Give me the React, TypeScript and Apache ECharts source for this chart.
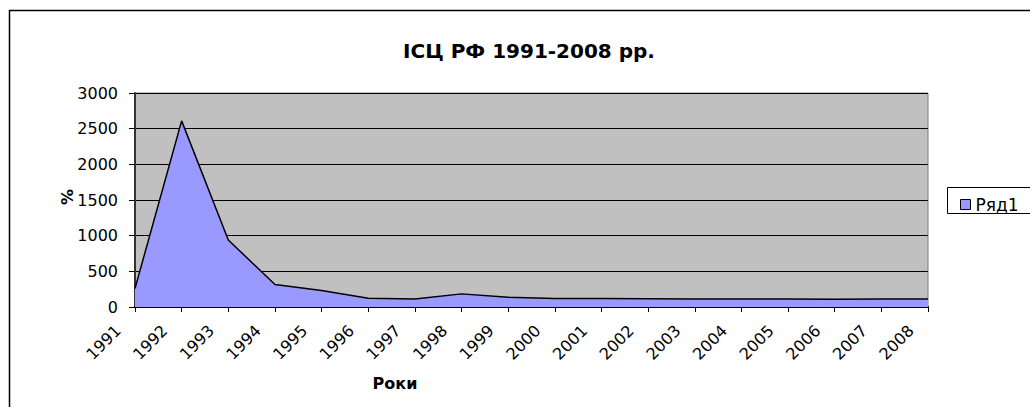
import React, { useEffect, useRef } from "react";
import * as echarts from "echarts";

const years = ["1991","1992","1993","1994","1995","1996","1997","1998","1999","2000","2001","2002","2003","2004","2005","2006","2007","2008"];
const values = [260, 2609, 940, 315, 231, 122, 111, 184, 137, 120, 119, 115, 112, 112, 111, 109, 112, 113];
const yTicks = { min: 0, max: 3000, interval: 500 };

const FONT = "DejaVu Sans, Arial, sans-serif";

export default function App() {
  const ref = useRef<HTMLDivElement>(null);
  useEffect(() => {
    const chart = echarts.init(ref.current!, null, { renderer: "svg" });
    chart.setOption({
      animation: false,
      backgroundColor: "#ffffff",
      textStyle: { fontFamily: FONT },
      title: {
        text: "ІСЦ РФ 1991-2008 рр.",
        left: 524,
        top: 36,
        textAlign: "center",
        textStyle: { fontSize: 20, fontWeight: "bold", color: "#000", fontFamily: FONT },
      },
      legend: {
        show: true,
        left: 955,
        top: 191,
        itemWidth: 10,
        itemHeight: 10,
        icon: "rect",
        textStyle: { fontSize: 17, color: "#000", fontFamily: FONT },
        data: [{ name: "Ряд1", itemStyle: { color: "#9999ff", borderColor: "#000", borderWidth: 1 } }],
      },
      grid: {
        left: 135,
        right: 102,
        top: 93,
        bottom: 100,
        show: true,
        backgroundColor: "#c0c0c0",
        borderColor: "#808080",
        borderWidth: 1,
      },
      xAxis: {
        type: "category",
        data: years,
        boundaryGap: false,
        axisLine: { lineStyle: { color: "#000", width: 2 } },
        axisTick: { show: true, length: 5, lineStyle: { color: "#000" } },
        axisLabel: { show: false },
        splitLine: { show: false },
      },
      yAxis: {
        type: "value",
        min: yTicks.min,
        max: yTicks.max,
        interval: yTicks.interval,
        axisLine: { show: true, lineStyle: { color: "#333", width: 2 } },
        axisTick: { show: true, length: 6, lineStyle: { color: "#000" } },
        axisLabel: { fontSize: 16, color: "#000", margin: 17, formatter: (v: number) => String(v) },
        splitLine: { show: true, lineStyle: { color: "#000", width: 1 } },
      },
      series: [
        {
          name: "Ряд1",
          type: "line",
          data: values,
          symbol: "none",
          lineStyle: { color: "#000", width: 1.5 },
          itemStyle: { color: "#9999ff" },
          areaStyle: { color: "#9999ff", opacity: 1 },
        },
      ],
    });

    const axisY = chart.convertToPixel({ yAxisIndex: 0 }, 0) as number;
    const labelEls = years.map((y) => {
      const px = chart.convertToPixel({ xAxisIndex: 0 }, y) as number;
      return {
        type: "text",
        x: px - 17,
        y: axisY + 21,
        rotation: Math.PI / 4,
        silent: true,
        style: { text: y, fontSize: 16, fill: "#000", textAlign: "right", textVerticalAlign: "middle", fontFamily: FONT },
      };
    });

    chart.setOption({
      graphic: [
        { type: "rect", shape: { x: 9.5, y: 10.5, width: 1100, height: 500 }, style: { fill: "none", stroke: "#000", lineWidth: 1.5 }, silent: true },
        { type: "rect", shape: { x: 947.5, y: 187.5, width: 100, height: 26 }, style: { fill: "none", stroke: "#000", lineWidth: 1 }, silent: true },
        { type: "text", x: 395, y: 383, style: { text: "Роки", fontSize: 16, fontWeight: "bold", fill: "#000", textAlign: "center", textVerticalAlign: "middle", fontFamily: FONT } },
        { type: "text", x: 67, y: 197, rotation: Math.PI / 2, style: { text: "%", fontSize: 16, fontWeight: "bold", fill: "#000", textAlign: "center", textVerticalAlign: "middle", fontFamily: FONT } },
        ...labelEls,
      ],
    });
    return () => chart.dispose();
  }, []);
  return <div ref={ref} style={{ width: 1030, height: 407, position: "absolute", left: 0, top: 0 }} />;
}
